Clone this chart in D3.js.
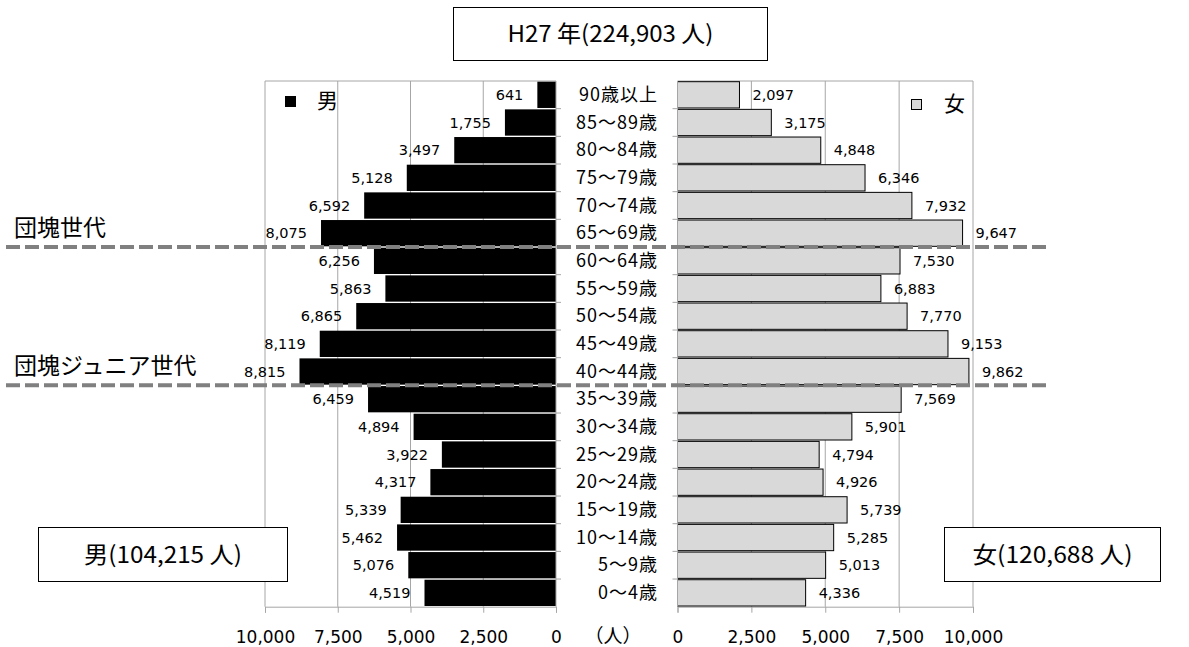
<!DOCTYPE html>
<html>
<head>
<meta charset="utf-8">
<script src="https://cdn.jsdelivr.net/npm/d3@7"></script>
<style>
  body { margin: 0; background: #fff; }
  svg { display: block; }
  .cat { font-family: "Noto Sans CJK JP", sans-serif; font-size: 18px; letter-spacing: 1px; }
  .val { font-family: "DejaVu Sans", sans-serif; font-size: 14.5px; }
  .tick text { font-family: "DejaVu Sans", sans-serif; font-size: 17px; fill: #000; }
  .box text { font-family: "Noto Sans CJK JP", sans-serif; font-size: 23px; }
  .note { font-family: "Noto Sans CJK JP", sans-serif; font-size: 23px; }
</style>
</head>
<body>
<div id="chart"></div>
<script>
const ageGroups = ['90歳以上', '85～89歳', '80～84歳', '75～79歳', '70～74歳', '65～69歳',
  '60～64歳', '55～59歳', '50～54歳', '45～49歳', '40～44歳', '35～39歳', '30～34歳',
  '25～29歳', '20～24歳', '15～19歳', '10～14歳', '5～9歳', '0～4歳'];
const male = [641, 1755, 3497, 5128, 6592, 8075, 6256, 5863, 6865, 8119, 8815, 6459,
  4894, 3922, 4317, 5339, 5462, 5076, 4519];
const female = [2097, 3175, 4848, 6346, 7932, 9647, 7530, 6883, 7770, 9153, 9862, 7569,
  5901, 4794, 4926, 5739, 5285, 5013, 4336];
const xTicks = [0, 2500, 5000, 7500, 10000];
const title = 'H27 年(224,903 人)';
const maleTotal = '男(104,215 人)';
const femaleTotal = '女(120,688 人)';
// generation markers: label + last age group above the dashed line
const generations = [
  { label: '団塊世代', after: '65～69歳' },
  { label: '団塊ジュニア世代', after: '40～44歳' }
];

const width = 1189;
const height = 647;
const plotTop = 81;
const plotBottom = 606.7;
const gridColor = '#a6a6a6';

const svg = d3.select('#chart').append('svg')
    .attr('width', width)
    .attr('height', height);

const yScale = d3.scaleBand()
    .domain(ageGroups)
    .range([plotTop, plotBottom])
    .paddingInner(0.05)
    .paddingOuter(0.025);

const yEdges = d3.scaleBand()
    .domain(ageGroups)
    .range([plotTop, plotBottom]);

const xLeft = d3.scaleLinear().domain([0, 10000]).range([556, 265]);
const xRight = d3.scaleLinear().domain([0, 10000]).range([677.5, 973]);

const fmt = d3.format(',');

// panels: grid, frame, bottom axis
const drawPanel = x => {
    const g = svg.append('g');
    g.selectAll('line.grid').data(xTicks.slice(1))
        .enter().append('line')
        .attr('x1', d => x(d)).attr('x2', d => x(d))
        .attr('y1', plotTop).attr('y2', plotBottom)
        .attr('stroke', gridColor);
    g.append('line')
        .attr('x1', x(0)).attr('x2', x(10000))
        .attr('y1', plotTop).attr('y2', plotTop)
        .attr('stroke', gridColor);

    const axis = d3.axisBottom(x)
        .tickValues(xTicks)
        .tickFormat(fmt)
        .tickSize(6)
        .tickPadding(18);
    const axisG = g.append('g')
        .attr('transform', `translate(0,${plotBottom})`)
        .call(axis);
    axisG.select('.domain').attr('stroke', gridColor);
    axisG.selectAll('.tick line').attr('stroke', gridColor);
    return g;
};

drawPanel(xLeft);
drawPanel(xRight);

// male bars
svg.append('g').selectAll('rect').data(male)
    .enter().append('rect')
    .attr('x', d => xLeft(d))
    .attr('y', (d, i) => yScale(ageGroups[i]))
    .attr('width', d => xLeft(0) - xLeft(d))
    .attr('height', yScale.bandwidth())
    .attr('fill', '#000');

// female bars
svg.append('g').selectAll('rect').data(female)
    .enter().append('rect')
    .attr('x', xRight(0))
    .attr('y', (d, i) => yScale(ageGroups[i]))
    .attr('width', d => xRight(d) - xRight(0))
    .attr('height', yScale.bandwidth())
    .attr('fill', '#d9d9d9')
    .attr('stroke', '#000')
    .attr('stroke-width', 1);

// vertical zero axes with category ticks
[[xLeft, 5], [xRight, -5]].forEach(([x, dx]) => {
    svg.append('line')
        .attr('x1', x(0)).attr('x2', x(0))
        .attr('y1', plotTop).attr('y2', plotBottom)
        .attr('stroke', gridColor);
    svg.append('g').selectAll('line').data(ageGroups.slice(1))
        .enter().append('line')
        .attr('x1', x(0)).attr('x2', x(0) + dx)
        .attr('y1', d => yEdges(d)).attr('y2', d => yEdges(d))
        .attr('stroke', gridColor);
});

// value labels
svg.append('g').selectAll('text').data(male)
    .enter().append('text')
    .attr('class', 'val')
    .attr('x', d => xLeft(d) - 14)
    .attr('y', (d, i) => yScale(ageGroups[i]) + yScale.bandwidth() / 2)
    .attr('dy', '0.35em')
    .attr('text-anchor', 'end')
    .text(fmt);

svg.append('g').selectAll('text').data(female)
    .enter().append('text')
    .attr('class', 'val')
    .attr('x', d => xRight(d) + 13)
    .attr('y', (d, i) => yScale(ageGroups[i]) + yScale.bandwidth() / 2)
    .attr('dy', '0.35em')
    .text(fmt);

// category labels
svg.append('g').selectAll('text').data(ageGroups)
    .enter().append('text')
    .attr('class', 'cat')
    .attr('x', 658)
    .attr('y', d => yEdges(d) + yEdges.bandwidth() / 2)
    .attr('dy', '0.35em')
    .attr('text-anchor', 'end')
    .text(d => d);

svg.append('text')
    .attr('class', 'cat')
    .attr('x', 613)
    .attr('y', 636)
    .attr('dy', '0.35em')
    .attr('text-anchor', 'middle')
    .style('letter-spacing', '0px')
    .style('font-size', '19px')
    .text('（人）');

// legend
svg.append('rect').attr('x', 285).attr('y', 96).attr('width', 11).attr('height', 11).attr('fill', '#000');
svg.append('text').attr('class', 'cat').attr('x', 317).attr('y', 101).attr('dy', '0.35em')
    .style('font-size', '21px').text('男');
svg.append('rect').attr('x', 911.5).attr('y', 99.5).attr('width', 10).attr('height', 10)
    .attr('fill', '#d9d9d9').attr('stroke', '#000');
svg.append('text').attr('class', 'cat').attr('x', 944).attr('y', 104).attr('dy', '0.35em')
    .style('font-size', '21px').text('女');

// generation dashed lines
generations.forEach(gen => {
    const y = yEdges(gen.after) + yEdges.bandwidth();
    svg.append('line')
        .attr('x1', 6).attr('x2', 1048)
        .attr('y1', y).attr('y2', y)
        .attr('stroke', '#808080')
        .attr('stroke-width', 4)
        .attr('stroke-dasharray', '14,5');
    svg.append('text')
        .attr('class', 'note')
        .attr('x', 14)
        .attr('y', y - 19)
        .attr('dy', '0.35em')
        .text(gen.label);
});

// boxes
const drawBox = (x, y, w, h, label, textW) => {
    const g = svg.append('g').attr('class', 'box');
    g.append('rect')
        .attr('x', x).attr('y', y).attr('width', w).attr('height', h)
        .attr('fill', '#fff').attr('stroke', '#000').attr('stroke-width', 1);
    g.append('text')
        .attr('x', x + w / 2 - textW / 2)
        .attr('y', y + h / 2)
        .attr('dy', '0.35em')
        .attr('textLength', textW)
        .attr('lengthAdjust', 'spacingAndGlyphs')
        .text(label);
};

drawBox(453.5, 7.5, 314, 53, title, 206);
drawBox(38.5, 527.5, 249, 54, maleTotal, 158);
drawBox(944.5, 527.5, 216, 54, femaleTotal, 160);
</script>
</body>
</html>
